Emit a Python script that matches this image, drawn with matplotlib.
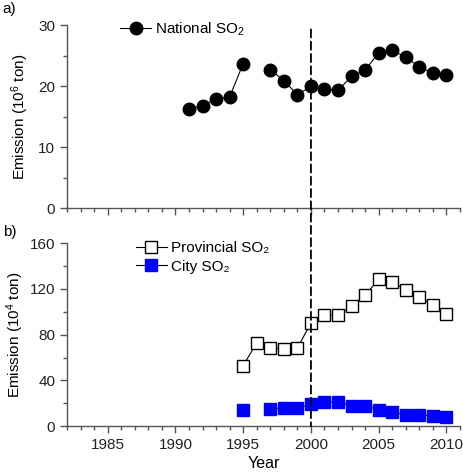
import numpy as np
import matplotlib
matplotlib.use('Agg')
import matplotlib.pyplot as plt
from matplotlib.patches import ConnectionPatch
from matplotlib.ticker import MultipleLocator

plt.rcParams['font.family'] = ['Liberation Sans', 'DejaVu Sans']
plt.rcParams['mathtext.fontset'] = 'custom'
plt.rcParams['mathtext.rm'] = 'Liberation Sans'
plt.rcParams['mathtext.it'] = 'Liberation Sans'

# National SO2 (10^6 ton), 1996 missing
nat_years = np.arange(1991, 2011)
nat_so2 = [16.2, 16.8, 17.9, 18.2, 23.7, np.nan, 22.7, 20.9, 18.6, 19.95,
           19.5, 19.3, 21.6, 22.6, 25.5, 25.9, 24.7, 23.2, 22.1, 21.8]

# Provincial and city SO2 (10^4 ton)
prov_years = np.arange(1995, 2011)
prov_so2 = [53, 72.8, 68.7, 67.2, 68.4, 90.1, 97.1, 97.1, 104.9, 114.5,
            128.4, 125.8, 119.4, 113, 105.8, 98.3]
city_so2 = [13.9, np.nan, 14.8, 16.2, 15.7, 19.1, 21.2, 20.9, 17.7, 17.7,
            14.5, 12.2, 10.1, 10.1, 9.0, 8.4]

year_ticks = [1985, 1990, 1995, 2000, 2005, 2010]
cut_year = 2000

spine_col = '#555555'
fs = 11

fig = plt.figure(figsize=(4.64, 4.74), dpi=100)
ax1 = fig.add_axes([0.1444, 0.561, 0.847, 0.386])
ax2 = fig.add_axes([0.1444, 0.101, 0.847, 0.386])

for ax in (ax1, ax2):
    ax.spines['top'].set_visible(False)
    ax.spines['right'].set_visible(False)
    for s in ('left', 'bottom'):
        ax.spines[s].set_color(spine_col)
        ax.spines[s].set_linewidth(1.0)
    ax.set_xlim(1982, 2011)
    ax.set_xticks(year_ticks)
    ax.xaxis.set_minor_locator(MultipleLocator(1))
    ax.tick_params(which='major', direction='out', length=5, width=1,
                   color=spine_col, labelsize=fs, labelcolor='#222222')
    ax.tick_params(which='minor', direction='out', length=3, width=1,
                   color=spine_col)

# panel a
ax1.plot(nat_years, nat_so2, '-o', color='black', lw=0.8, ms=9,
         label='National SO$_2$')
ax1.set_ylim(0, 30)
ax1.set_yticks([0, 10, 20, 30])
ax1.yaxis.set_minor_locator(MultipleLocator(5))
ax1.tick_params(axis='x', labelbottom=False)
ax1.set_ylabel('Emission (10$^6$ ton)', fontsize=fs, labelpad=5)
ax1.legend(loc='upper left', bbox_to_anchor=(0.12, 1.06), frameon=False,
           fontsize=fs, handlelength=2.0, handletextpad=0.3,
           borderaxespad=0)

# panel b
ax2.plot(prov_years, prov_so2, '-s', color='black', mfc='white', mec='black',
         mew=1.0, lw=0.8, ms=8, label='Provincial SO₂')
ax2.plot(prov_years, city_so2, '-s', color='black', mfc='#0000ff',
         mec='#0000ff', lw=0.8, ms=8, label='City SO₂')
ax2.set_ylim(0, 160)
ax2.set_yticks([0, 40, 80, 120, 160])
ax2.yaxis.set_minor_locator(MultipleLocator(20))
ax2.set_ylabel('Emission (10$^4$ ton)', fontsize=fs, labelpad=3)
ax2.set_xlabel('Year', fontsize=fs + 0.5, labelpad=3)
ax2.legend(loc='upper left', bbox_to_anchor=(0.16, 1.045), frameon=False,
           fontsize=fs, handlelength=2.0, handletextpad=0.3,
           labelspacing=0.3, borderaxespad=0)

# dashed line at 2000 through both panels
con = ConnectionPatch(xyA=(cut_year, 29.3), coordsA=ax1.transData,
                      xyB=(cut_year, 0), coordsB=ax2.transData,
                      linestyle=(0, (4.5, 2.3)), color='black', lw=1.3)
fig.add_artist(con)

fig.text(0.006, 0.995, 'a)', fontsize=fs, va='top', ha='left')
fig.text(0.006, 0.525, 'b)', fontsize=fs, va='top', ha='left')

fig.savefig('out.png', dpi=100)
